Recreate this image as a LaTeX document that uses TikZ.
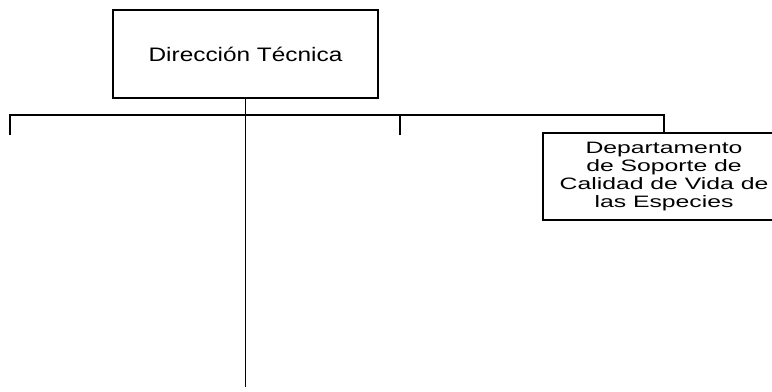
\documentclass[tikz,border=0pt]{standalone}
\usepackage{fontspec}
\setmainfont{Liberation Sans}
\newfontfamily\topfont[FakeStretch=1.25]{Liberation Sans}
\newfontfamily\depfont[FakeStretch=1.5]{Liberation Sans}

\begin{document}
\begin{tikzpicture}[x=1bp,y=-1bp,line width=1.3bp,
	box/.style={draw,rectangle,inner sep=0pt,align=center}]
\useasboundingbox (0,0) rectangle (772,391);
\node [box,minimum width=265bp,minimum height=88bp,
	font=\topfont\fontsize{19.5bp}{22bp}\selectfont] (dir) at (245.5,54) {Dirección Técnica};
\node [box,minimum width=242bp,minimum height=87bp,
	font=\depfont\fontsize{16.5bp}{18.3bp}\selectfont] (dep) at (664,176.5)
	{Departamento\\de Soporte de\\Calidad de Vida de\\las Especies};
\coordinate (bar) at (245.5,115);
\coordinate (t1) at (10,135);
\coordinate (t3) at (400,135);
\coordinate (low) at (245.5,387);
\draw (dir.south) -- (low);
\draw (t1) -- (t1 |- bar) -- (dep.north |- bar) -- (dep.north);
\draw (t3) -- (t3 |- bar);
\end{tikzpicture}
\end{document}
